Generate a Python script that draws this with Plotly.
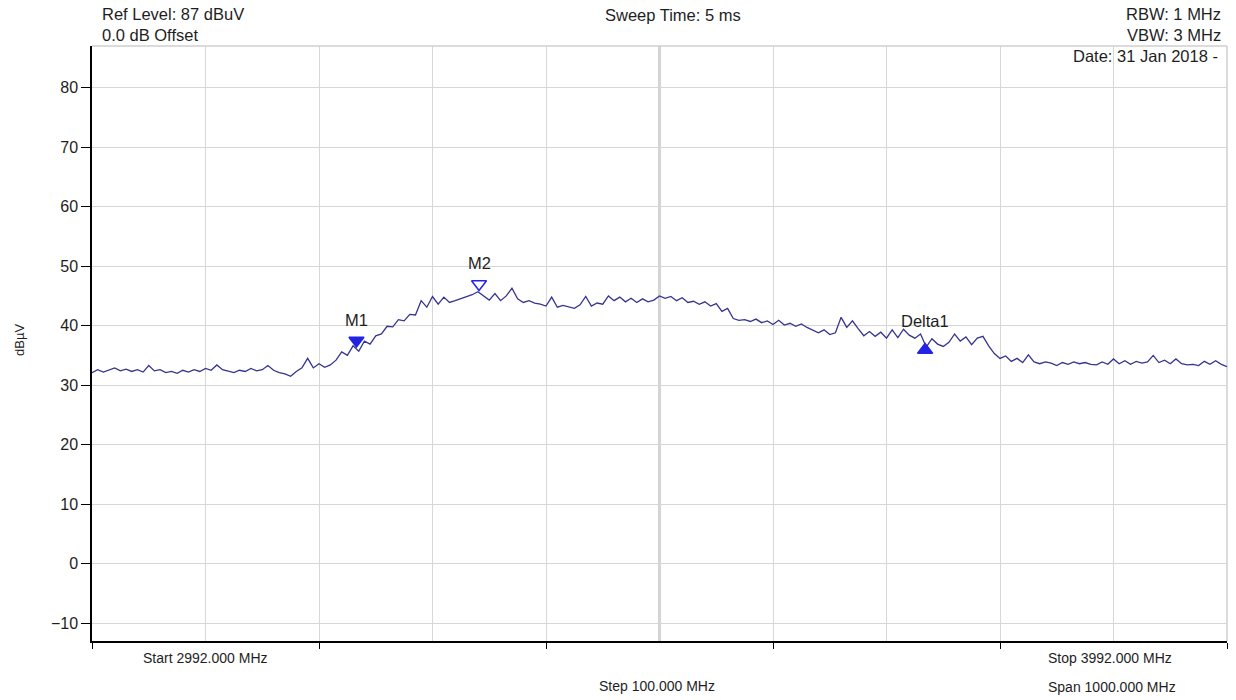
import numpy as np
import plotly.graph_objects as go

# Sweep: 2992 MHz to 3992 MHz, one reading every 5 MHz
start_mhz = 2992
stop_mhz = 3992
step_mhz = 5
freq_mhz = np.arange(start_mhz, stop_mhz + step_mhz, step_mhz)

level_dbuv = [
    32.1, 32.6, 32.2, 32.5, 32.9, 32.4, 32.7, 32.3, 32.6, 32.2,
    33.3, 32.4, 32.6, 32.1, 32.3, 32.0, 32.5, 32.2, 32.6, 32.3,
    32.8, 32.5, 33.4, 32.6, 32.3, 32.1, 32.5, 32.3, 32.8, 32.4,
    32.6, 33.3, 32.5, 32.1, 31.9, 31.5, 32.3, 32.9, 34.5, 32.9,
    33.6, 33.0, 33.4, 34.2, 35.6, 35.0, 36.6, 35.7, 37.4, 36.9,
    38.3, 38.6, 39.9, 39.8, 41.0, 40.8, 41.9, 41.8, 44.2, 43.1,
    44.9, 43.6, 44.8, 43.9, 44.2, 44.5, 44.8, 45.2, 45.7, 45.0,
    44.3, 45.4, 44.2, 45.0, 46.3, 44.5, 43.9, 44.2, 43.8, 43.6,
    43.3, 44.8, 43.1, 43.4, 43.2, 42.9, 43.5, 44.9, 43.3, 43.8,
    43.6, 45.0, 44.2, 44.8, 44.0, 44.6, 43.9, 44.5, 44.0, 44.3,
    45.0, 44.6, 44.9, 44.2, 44.7, 43.9, 44.1, 43.6, 44.0, 43.3,
    43.7, 42.4, 42.9, 41.2, 40.9, 41.0, 40.7, 41.1, 40.5, 40.8,
    40.2, 40.9, 40.1, 40.4, 39.9, 40.3, 39.7, 39.2, 38.8, 39.3,
    38.5, 38.8, 41.4, 39.7, 40.8, 39.5, 38.3, 39.0, 38.2, 38.9,
    37.9, 39.3, 38.0, 39.4, 38.4, 37.9, 38.6, 36.4, 37.8, 36.9,
    36.5, 37.2, 38.6, 37.4, 38.1, 36.8, 37.9, 38.2, 36.6, 35.3,
    34.5, 34.9, 34.0, 34.5, 33.8, 35.1, 33.9, 33.6, 33.9, 33.7,
    33.3, 33.8, 33.5, 33.9, 33.6, 33.8, 33.5, 33.4, 33.9, 33.5,
    34.4, 33.6, 34.1, 33.5, 34.0, 33.7, 33.9, 35.0, 33.8, 34.2,
    33.6, 34.4, 33.6, 33.4, 33.5, 33.3, 34.0, 33.5, 34.1, 33.5,
    33.1,
]

# Markers placed on the sweep
marker_names = ["M1", "M2", "Delta1"]
marker_freq = [3225, 3333, 3726]
marker_level = [37.5, 47.0, 35.9]
marker_symbols = ["triangle-down", "triangle-down-open", "triangle-up"]
label_lift_px = [21, 21, 29]

ref_level = 87
y_bottom = ref_level - 100
y_ticks = list(range(-10, 81, 10))

FONT = "Liberation Sans, Arial, sans-serif"
INK = "#1e1e1e"
head_font = dict(family=FONT, size=16.5, color=INK)
foot_font = dict(family=FONT, size=14, color=INK)
label_font = dict(family=FONT, size=16.5, color=INK)
grid_col = "#d6d6d6"

fig = go.Figure()

fig.add_trace(go.Scatter(
    x=freq_mhz, y=level_dbuv, mode="lines",
    line=dict(color="#35358f", width=1.3),
    hoverinfo="x+y", showlegend=False,
))

fig.add_trace(go.Scatter(
    x=marker_freq, y=marker_level, mode="markers",
    marker=dict(symbol=marker_symbols, size=13, color="#2323e6",
                line=dict(color="#2323e6", width=1.5)),
    showlegend=False,
))

for name, f, lvl, lift in zip(marker_names, marker_freq, marker_level, label_lift_px):
    fig.add_annotation(text=name, x=f, y=lvl, xref="x", yref="y",
                       yshift=lift, showarrow=False, font=label_font,
                       xanchor="center", yanchor="middle")

# Centre division line is drawn heavier than the rest
fig.add_shape(type="line", xref="x", yref="paper",
              x0=(start_mhz + stop_mhz) / 2, x1=(start_mhz + stop_mhz) / 2,
              y0=0, y1=1, line=dict(color="#a8a8a8", width=2), layer="below")
# Top and right frame edges
fig.add_shape(type="line", xref="paper", yref="paper", x0=0, x1=1, y0=1, y1=1,
              line=dict(color="#cfcfcf", width=1.5), layer="below")
fig.add_shape(type="line", xref="paper", yref="paper", x0=1, x1=1, y0=0, y1=1,
              line=dict(color="#cfcfcf", width=1.5), layer="below")

header = [
    ("Ref Level: 87 dBuV", 0.007, 1.054, "left"),
    ("0.0 dB Offset", 0.007, 1.018, "left"),
    ("Sweep Time: 5 ms", 0.512, 1.052, "center"),
    ("RBW: 1 MHz", 0.9965, 1.054, "right"),
    ("VBW: 3 MHz", 0.9965, 1.018, "right"),
    ("Date: 31 Jan 2018 -", 0.994, 0.983, "right"),
]
for txt, x, y, anchor in header:
    fig.add_annotation(text=txt, x=x, y=y, xref="paper", yref="paper",
                       xanchor=anchor, yanchor="middle", showarrow=False,
                       font=head_font)

footer = [
    ("Start 2992.000 MHz", 0.0996, -0.0286),
    ("Step 100.000 MHz", 0.498, -0.0756),
    ("Stop 3992.000 MHz", 0.897, -0.0286),
    ("Span 1000.000 MHz", 0.899, -0.0773),
]
for txt, x, y in footer:
    fig.add_annotation(text=txt, x=x, y=y, xref="paper", yref="paper",
                       xanchor="center", yanchor="middle", showarrow=False,
                       font=foot_font)

fig.add_annotation(text="dBµV", x=-0.0634, y=0.506, xref="paper", yref="paper",
                   textangle=-90, showarrow=False, xanchor="center", yanchor="middle",
                   font=dict(family=FONT, size=13, color=INK))

fig.update_layout(
    width=1236, height=700,
    margin=dict(l=92, r=9, t=46, b=59),
    paper_bgcolor="white", plot_bgcolor="white",
    xaxis=dict(
        range=[start_mhz, stop_mhz], tick0=start_mhz, dtick=200,
        showticklabels=False, ticks="outside", ticklen=6, tickcolor="black",
        showgrid=True, gridcolor=grid_col, gridwidth=1,
        minor=dict(tick0=start_mhz, dtick=100, showgrid=True,
                   gridcolor=grid_col, gridwidth=1),
        showline=True, linecolor="black", linewidth=1.5, zeroline=False,
        fixedrange=True,
    ),
    yaxis=dict(
        range=[y_bottom, ref_level], tickvals=y_ticks,
        ticks="outside", ticklen=9, tickcolor="black",
        tickfont=dict(family=FONT, size=16, color=INK),
        showgrid=True, gridcolor=grid_col, gridwidth=1,
        showline=True, linecolor="black", linewidth=1.5, zeroline=False,
        fixedrange=True,
    ),
)

fig.write_html("out.html")
